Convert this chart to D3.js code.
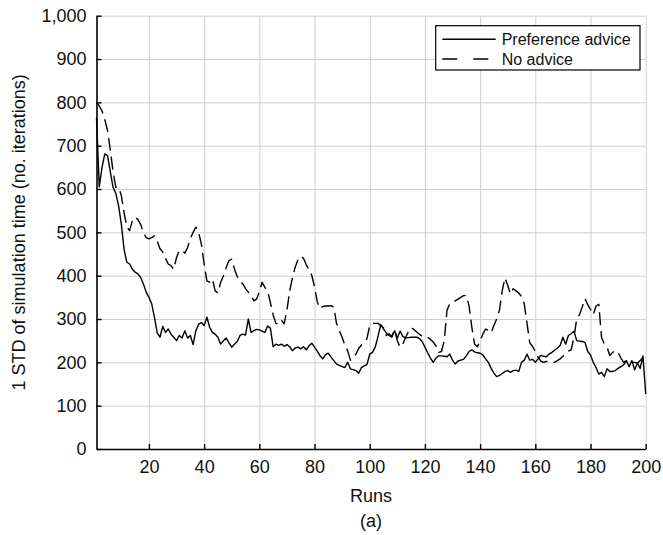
<!DOCTYPE html>
<html>
<head>
<meta charset="utf-8">
<script src="https://cdn.jsdelivr.net/npm/d3@7"></script>
<style>
  body { margin: 0; background: #fff; }
  svg { font-family: "Liberation Sans", Arial, sans-serif; }
</style>
</head>
<body>
<script>
const WIDTH = 663;
const HEIGHT = 535;

const margin = {top: 15.7, right: 17.3, bottom: 86, left: 96.5};

// runs 1..200
const runs = d3.range(1, 201);

const preferenceAdvice = [
  765, 605, 650, 681, 677, 640, 604, 590, 561, 519,
  460, 431, 427, 415, 408, 404, 396, 381, 362, 350,
  335, 304, 268, 258, 283, 269, 277, 265, 258, 250,
  262, 256, 273, 256, 262, 241, 273, 288, 292, 285,
  304, 281, 269, 265, 258, 242, 250, 256, 245, 235,
  242, 248, 262, 265, 263, 300, 269, 273, 276, 275,
  272, 269, 284, 279, 236, 242, 239, 242, 237, 241,
  236, 227, 233, 235, 231, 236, 229, 238, 244, 235,
  226, 215, 208, 218, 221, 212, 204, 196, 193, 190,
  188, 200, 185, 183, 181, 175, 188, 192, 195, 219,
  223, 235, 260, 287, 277, 268, 262, 258, 273, 256,
  272, 260, 256, 257, 258, 258, 258, 255, 248, 235,
  222, 210, 200, 210, 215, 215, 214, 213, 219, 205,
  196, 203, 205, 207, 215, 225, 229, 224, 222, 221,
  217, 208, 200, 186, 175, 167, 170, 174, 179, 181,
  177, 181, 182, 179, 200, 205, 219, 205, 207, 200,
  208, 216, 214, 213, 219, 223, 228, 233, 239, 258,
  242, 262, 266, 272, 250, 249, 248, 246, 225, 217,
  200, 188, 173, 177, 167, 185, 179, 179, 181, 186,
  190, 194, 204, 190, 204, 183, 198, 186, 215, 127
];

const noAdvice = [
  800, 792, 780, 760, 735, 690, 640, 604, 604, 585,
  545, 512, 504, 527, 535, 530, 518, 500, 488, 485,
  488, 492, 480, 462, 455, 440, 427, 423, 415, 442,
  458, 458, 452, 465, 485, 500, 512, 500, 473, 427,
  388, 385, 392, 365, 360, 385, 400, 419, 435, 438,
  415, 398, 388, 381, 370, 362, 354, 342, 346, 362,
  385, 373, 365, 338, 310, 290, 288, 297, 289, 320,
  365, 395, 420, 437, 445, 440, 425, 414, 401, 374,
  340, 324, 329, 330, 330, 331, 327, 289, 273, 258,
  239, 227, 205, 210, 219, 232, 240, 245, 255, 285,
  290, 290, 290, 285, 280, 262, 266, 260, 275, 250,
  235, 242, 258, 270, 280, 276, 270, 265, 260, 258,
  258, 253, 247, 238, 223, 225, 250, 320, 335, 339,
  342, 346, 350, 354, 354, 330, 281, 242, 236, 250,
  265, 277, 273, 268, 285, 300, 320, 365, 395, 378,
  358, 370, 365, 360, 352, 335, 290, 245, 237, 225,
  212, 203, 200, 202, 202, 201, 200, 204, 208, 214,
  222, 226, 229, 258, 300, 310, 328, 347, 333, 322,
  310, 330, 334, 258, 242, 235, 216, 223, 227, 223,
  210, 200, 204, 202, 200, 200, 198, 204, 212, 205
];

const xTicks = [20, 40, 60, 80, 100, 120, 140, 160, 180, 200];
const yTicks = [0, 100, 200, 300, 400, 500, 600, 700, 800, 900, 1000];

const seriesNames = ["Preference advice", "No advice"];
const dashes = [null, "13,6"];

const svg = d3.select("body").append("svg")
    .attr("width", WIDTH)
    .attr("height", HEIGHT);

const x = d3.scaleLinear().domain([1, 200]).range([margin.left, WIDTH - margin.right]);
const y = d3.scaleLinear().domain([0, 1000]).range([HEIGHT - margin.bottom + 0.0 - 0, margin.top]);
y.range([449, 15.7]);

const plotW = x.range()[1] - x.range()[0];
const plotH = y.range()[0] - y.range()[1];

// grid
svg.append("g")
    .attr("transform", `translate(0,${y(0)})`)
    .call(d3.axisBottom(x).tickValues(xTicks).tickSize(-plotH).tickFormat(""))
    .call(g => g.select(".domain").remove())
    .call(g => g.selectAll("line").attr("stroke", "#cfcfcf").attr("stroke-width", 1));

svg.append("g")
    .attr("transform", `translate(${x(1)},0)`)
    .call(d3.axisLeft(y).tickValues(yTicks).tickSize(-plotW).tickFormat(""))
    .call(g => g.select(".domain").remove())
    .call(g => g.selectAll("line").attr("stroke", "#cfcfcf").attr("stroke-width", 1));

// lines
const series = [preferenceAdvice, noAdvice];
const line = d3.line()
    .x((d, i) => x(runs[i]))
    .y(d => y(d));

series.forEach((vals, k) => {
  svg.append("path")
      .datum(vals)
      .attr("fill", "none")
      .attr("stroke", "#000")
      .attr("stroke-width", 1.4)
      .attr("stroke-linejoin", "round")
      .attr("stroke-dasharray", dashes[k])
      .attr("d", line);
});

// axes
const xAxis = svg.append("g")
    .attr("transform", `translate(0,${y(0)})`)
    .call(d3.axisBottom(x).tickValues(xTicks).tickSizeInner(-5).tickSizeOuter(0).tickPadding(11));

const yAxis = svg.append("g")
    .attr("transform", `translate(${x(1)},0)`)
    .call(d3.axisLeft(y).tickValues(yTicks).tickFormat(d3.format(",")).tickSizeInner(-5).tickSizeOuter(0).tickPadding(10));

[xAxis, yAxis].forEach(g => {
  g.select(".domain").attr("stroke", "#000").attr("stroke-width", 1.6);
  g.selectAll(".tick line").attr("stroke", "#000").attr("stroke-width", 1.4);
  g.selectAll("text")
      .attr("font-family", "'Liberation Sans', Arial, sans-serif")
      .attr("font-size", 18)
      .attr("fill", "#111");
});

// axis titles
svg.append("text")
    .attr("x", (x.range()[0] + x.range()[1]) / 2)
    .attr("y", 502)
    .attr("text-anchor", "middle")
    .attr("font-size", 18)
    .attr("fill", "#111")
    .text("Runs");

svg.append("text")
    .attr("x", (x.range()[0] + x.range()[1]) / 2)
    .attr("y", 527)
    .attr("text-anchor", "middle")
    .attr("font-size", 18)
    .attr("fill", "#111")
    .text("(a)");

svg.append("text")
    .attr("transform", `translate(24.5,${(y.range()[0] + y.range()[1]) / 2}) rotate(-90)`)
    .attr("text-anchor", "middle")
    .attr("font-size", 18)
    .attr("fill", "#111")
    .text("1 STD of simulation time (no. iterations)");

// legend
const legend = svg.append("g").attr("transform", "translate(435.7,25.7)");
legend.append("rect")
    .attr("width", 204.3)
    .attr("height", 44.3)
    .attr("fill", "#fff")
    .attr("stroke", "#000")
    .attr("stroke-width", 1.2);

seriesNames.forEach((name, k) => {
  const ly = 13.6 + k * 19.7;
  legend.append("line")
      .attr("x1", 6.6).attr("x2", k === 0 ? 60 : 53)
      .attr("y1", ly).attr("y2", ly)
      .attr("stroke", "#000")
      .attr("stroke-width", 1.4)
      .attr("stroke-dasharray", k === 0 ? null : "15,16");
  legend.append("text")
      .attr("x", 66)
      .attr("y", ly)
      .attr("dy", "0.35em")
      .attr("font-size", 16)
      .attr("fill", "#111")
      .text(name);
});
</script>
</body>
</html>
